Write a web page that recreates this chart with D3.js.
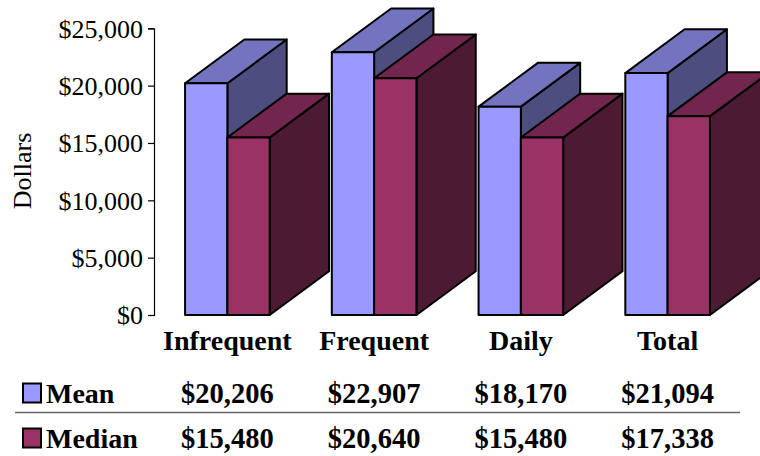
<!DOCTYPE html>
<html>
<head>
<meta charset="utf-8">
<script src="https://cdn.jsdelivr.net/npm/d3@7"></script>
<style>
  body { margin: 0; background: #fff; }
  svg { display: block; font-family: "Liberation Serif", "Times New Roman", serif; }
</style>
</head>
<body>
<div id="chart"></div>
<script>
var categories = ["Infrequent", "Frequent", "Daily", "Total"];
var seriesNames = ["Mean", "Median"];
var meanValues = [20206, 22907, 18170, 21094];
var medianValues = [15480, 20640, 15480, 17338];
var yTicks = [0, 5000, 10000, 15000, 20000, 25000];

var seriesValues = [meanValues, medianValues];
var colors = {
  Mean: { front: "#9999ff", top: "#7373bf", side: "#4d4d80" },
  Median: { front: "#993366", top: "#73264d", side: "#4d1a33" }
};

var width = 760, height = 456;
var depth = { dx: 59.3, dy: -43.8 };

var svg = d3.select("#chart").append("svg")
  .attr("width", width)
  .attr("height", height);

var x0 = d3.scaleBand()
  .domain(categories)
  .range([154, 741])
  .paddingInner(0.4233)
  .paddingOuter(0.2117);

var x1 = d3.scaleBand()
  .domain(seriesNames)
  .range([0, x0.bandwidth()]);

var y = d3.scaleLinear()
  .domain([0, 25000])
  .range([315, 28.3]);

var money = d3.format(",");

// axis
var yAxis = svg.append("g")
  .attr("transform", "translate(154,0)")
  .call(d3.axisLeft(y).tickValues(yTicks).tickSizeOuter(0).tickSize(6).tickPadding(5)
    .tickFormat(function (d) { return "$" + money(d); }));
yAxis.select(".domain").attr("stroke", "#000").attr("stroke-width", 1.2);
yAxis.selectAll(".tick line").attr("stroke", "#000").attr("stroke-width", 1.2);
yAxis.selectAll(".tick text")
  .attr("font-family", "'Liberation Serif', 'Times New Roman', serif")
  .attr("font-size", 26)
  .attr("fill", "#000")
  .attr("dy", "0.34em");

svg.append("text")
  .attr("transform", "translate(31,171) rotate(-90)")
  .attr("text-anchor", "middle")
  .attr("font-size", 26)
  .text("Dollars");

// 3D boxes, drawn left to right so later boxes overlap earlier side faces
var boxes = [];
categories.forEach(function (c, i) {
  seriesNames.forEach(function (s, j) {
    boxes.push({ cat: c, series: s, value: seriesValues[j][i] });
  });
});

var g = svg.append("g").attr("class", "bars");
boxes.forEach(function (b) {
  var xl = x0(b.cat) + x1(b.series);
  var xr = xl + x1.bandwidth();
  var yt = y(b.value);
  var yb = y(0);
  var dx = depth.dx, dy = depth.dy;
  var col = colors[b.series];
  var box = g.append("g");
  box.append("polygon")
    .attr("points", [[xr, yt], [xr + dx, yt + dy], [xr + dx, yb + dy], [xr, yb]].join(" "))
    .attr("fill", col.side);
  box.append("polygon")
    .attr("points", [[xl, yt], [xl + dx, yt + dy], [xr + dx, yt + dy], [xr, yt]].join(" "))
    .attr("fill", col.top);
  box.append("rect")
    .attr("x", xl).attr("y", yt)
    .attr("width", xr - xl).attr("height", yb - yt)
    .attr("fill", col.front);
  box.selectAll("polygon, rect")
    .attr("stroke", "#000")
    .attr("stroke-width", 2)
    .attr("stroke-linejoin", "round");
});

// category labels
svg.append("g").selectAll("text")
  .data(categories)
  .enter().append("text")
  .attr("x", function (d) { return x0(d) + x0.bandwidth() / 2; })
  .attr("y", 350)
  .attr("text-anchor", "middle")
  .attr("font-size", 28)
  .attr("font-weight", "bold")
  .text(function (d) { return d; });

// data table
var rowY = [403, 448];
svg.append("line")
  .attr("x1", 15).attr("x2", 740)
  .attr("y1", 412.5).attr("y2", 412.5)
  .attr("stroke", "#666")
  .attr("stroke-width", 1.5);

seriesNames.forEach(function (s, j) {
  var row = svg.append("g");
  row.append("rect")
    .attr("x", 23).attr("y", rowY[j] - 19.5)
    .attr("width", 18).attr("height", 19)
    .attr("fill", colors[s].front)
    .attr("stroke", "#000")
    .attr("stroke-width", 2);
  row.append("text")
    .attr("x", 46).attr("y", rowY[j])
    .attr("font-size", 28)
    .attr("font-weight", "bold")
    .text(s);
  row.selectAll(".val")
    .data(seriesValues[j])
    .enter().append("text")
    .attr("class", "val")
    .attr("x", function (d, i) { return x0(categories[i]) + x0.bandwidth() / 2; })
    .attr("y", rowY[j])
    .attr("text-anchor", "middle")
    .attr("font-size", 28.5)
    .attr("font-weight", "bold")
    .text(function (d) { return "$" + money(d); });
});
</script>
</body>
</html>
